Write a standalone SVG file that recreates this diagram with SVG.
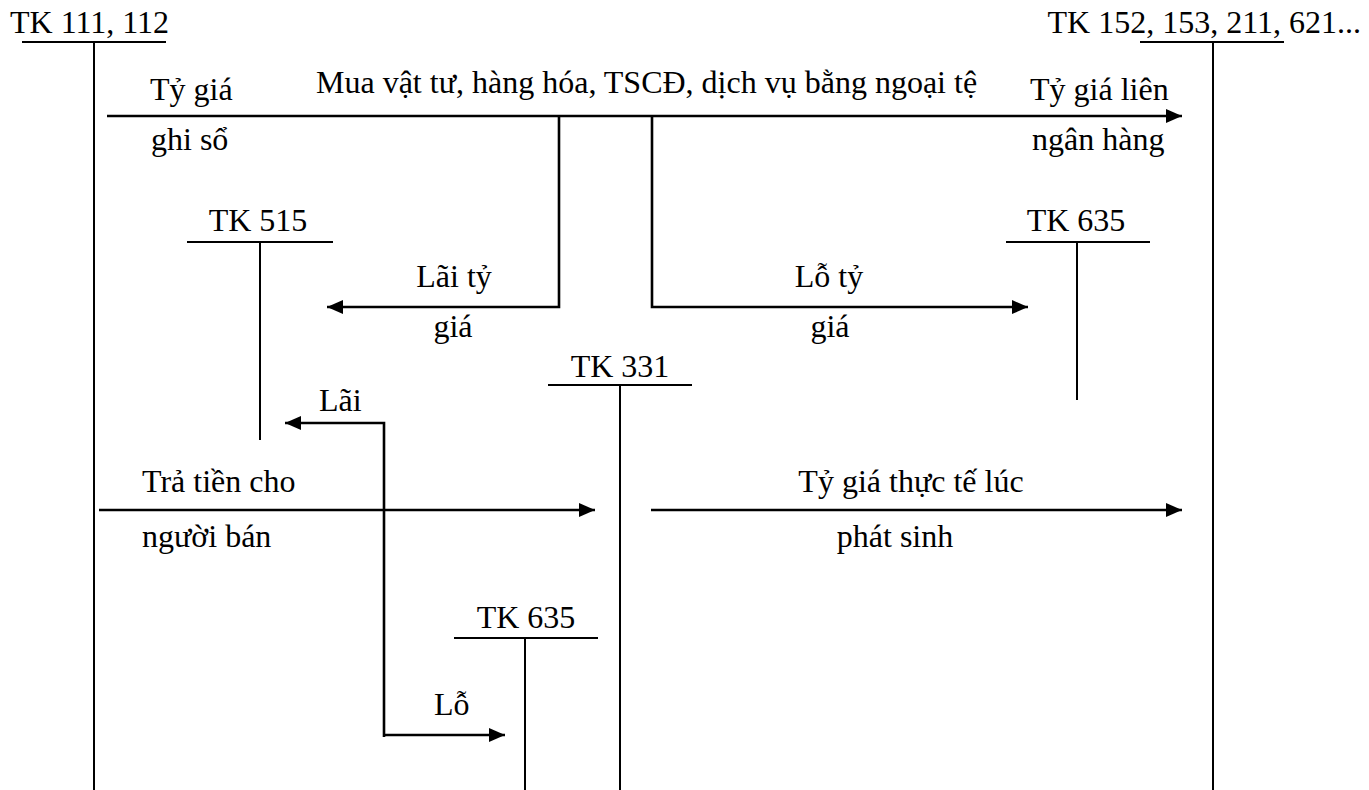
<svg xmlns="http://www.w3.org/2000/svg" width="1369" height="790" viewBox="0 0 1369 790">
<defs>
<style>
text { font-family: "Liberation Serif", "Times New Roman", serif; font-size: 32px; fill: #000; }
.t { stroke: #000; stroke-width: 2; fill: none; }
.a { stroke: #000; stroke-width: 2.6; fill: none; }
.m { text-anchor: middle; }
.e { text-anchor: end; }
</style>
<marker id="ah" markerWidth="16" markerHeight="14" refX="16" refY="7" orient="auto" markerUnits="userSpaceOnUse">
<path d="M0,0 L16,7 L0,14 Z" fill="#000"/>
</marker>
</defs>
<rect width="1369" height="790" fill="#fff"/>

<g id="tk111">
<text x="10" y="33">TK 111, 112</text>
<line class="t" x1="22" y1="42" x2="166" y2="42"/>
<line class="t" x1="94" y1="42" x2="94" y2="790"/>
</g>

<g id="tk152">
<text class="e" x="1361" y="33">TK 152, 153, 211, 621...</text>
<line class="t" x1="1140" y1="42" x2="1284" y2="42"/>
<line class="t" x1="1213" y1="42" x2="1213" y2="790"/>
</g>

<g id="tk515">
<text class="m" x="258" y="231">TK 515</text>
<line class="t" x1="187" y1="242" x2="333" y2="242"/>
<line class="t" x1="260" y1="242" x2="260" y2="440"/>
</g>

<g id="tk635a">
<text class="m" x="1076" y="231">TK 635</text>
<line class="t" x1="1006" y1="242" x2="1150" y2="242"/>
<line class="t" x1="1077" y1="242" x2="1077" y2="400"/>
</g>

<g id="tk331">
<text class="m" x="620" y="377">TK 331</text>
<line class="t" x1="548" y1="385" x2="692" y2="385"/>
<line class="t" x1="620" y1="385" x2="620" y2="790"/>
</g>

<g id="tk635b">
<text class="m" x="526" y="628">TK 635</text>
<line class="t" x1="454" y1="638" x2="598" y2="638"/>
<line class="t" x1="525" y1="638" x2="525" y2="790"/>
</g>

<g id="connectors">
<line class="a" x1="107" y1="116" x2="1182" y2="116" marker-end="url(#ah)"/>
<polyline class="a" points="559,116 559,307 327,307" marker-end="url(#ah)"/>
<polyline class="a" points="652,116 652,307 1028,307" marker-end="url(#ah)"/>
<polyline class="a" points="384,737 384,423 285,423" marker-end="url(#ah)"/>
<line class="a" x1="384" y1="735" x2="505" y2="735" marker-end="url(#ah)"/>
<line class="a" x1="99" y1="510" x2="595" y2="510" marker-end="url(#ah)"/>
<line class="a" x1="651" y1="510" x2="1182" y2="510" marker-end="url(#ah)"/>
</g>

<g id="labels">
<text x="150" y="100">Tỷ giá</text>
<text x="151" y="150">ghi sổ</text>
<text x="316" y="93">Mua vật tư, hàng hóa, TSCĐ, dịch vụ bằng ngoại tệ</text>
<text x="1030" y="100">Tỷ giá liên</text>
<text x="1032" y="150">ngân hàng</text>
<text class="m" x="454" y="287">Lãi tỷ</text>
<text class="m" x="453" y="337">giá</text>
<text class="m" x="829" y="287">Lỗ tỷ</text>
<text class="m" x="830" y="337">giá</text>
<text x="319" y="411">Lãi</text>
<text x="142" y="492">Trả tiền cho</text>
<text x="142" y="547">người bán</text>
<text class="m" x="911" y="492">Tỷ giá thực tế lúc</text>
<text class="m" x="895" y="547">phát sinh</text>
<text x="434" y="715">Lỗ</text>
</g>
</svg>
